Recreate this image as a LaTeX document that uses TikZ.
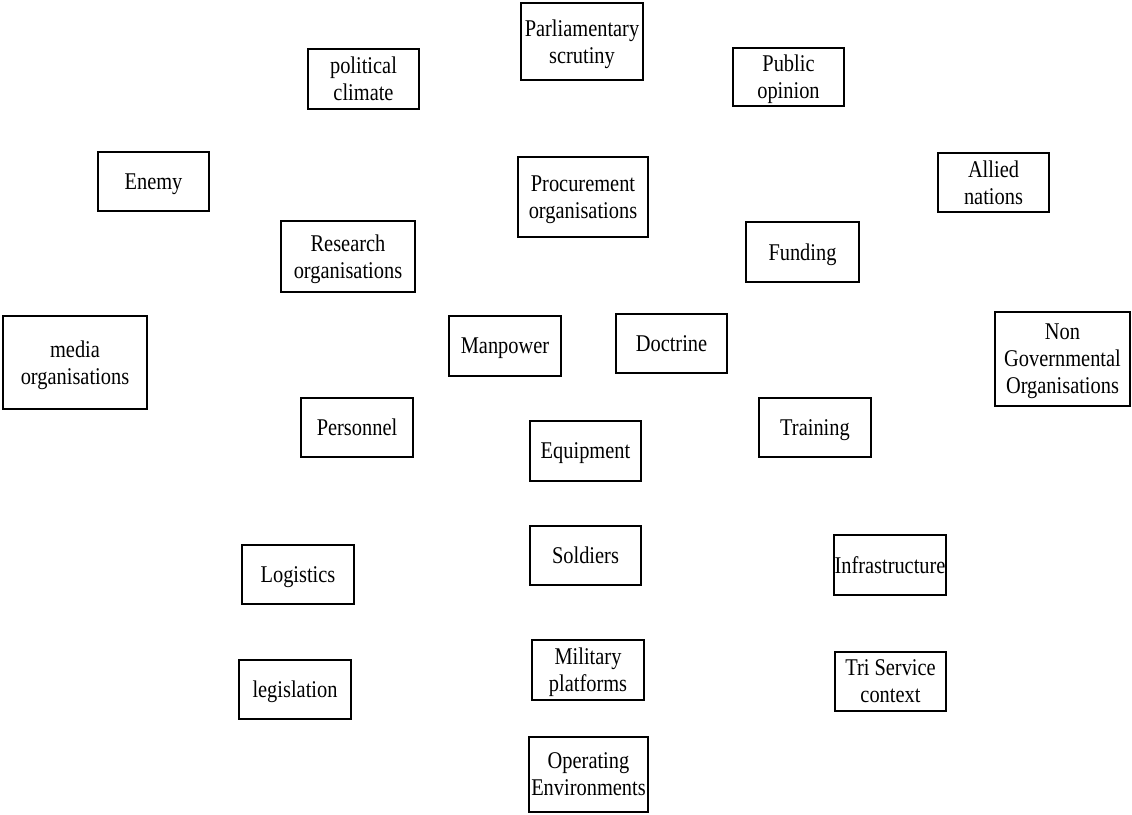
\documentclass[tikz,border=0pt]{standalone}
\usepackage{fontspec}
\setmainfont{Liberation Serif}[FakeStretch=0.85]
\begin{document}
\begin{tikzpicture}[x=1pt,y=1pt,
  box/.style={draw=black, line width=1.1pt, inner sep=0pt, align=center,
    text depth=0pt, font=\fontsize{24}{27}\selectfont}]
% box given by left, top, right, bottom (top-down page coordinates)
\newcommand\bx[6]{%
  \node[box, minimum width={#4-#2}, minimum height={#5-#3}]
    (#1) at ({(#2+#4)/2},{814-(#3+#5)/2}) {#6};}
\useasboundingbox (0,0) rectangle (1132,814);
\bx{parl}{521}{3}{643}{80}{Parliamentary\\scrutiny}
\bx{polclim}{308}{49}{419}{109}{political\\climate}
\bx{pubop}{733}{48}{844}{106}{Public\\opinion}
\bx{enemy}{98}{152}{209}{211}{Enemy}
\bx{procure}{518}{157}{648}{237}{Procurement\\organisations}
\bx{allied}{938}{153}{1049}{212}{Allied\\nations}
\bx{research}{281}{221}{415}{292}{Research\\organisations}
\bx{funding}{746}{222}{859}{282}{Funding}
\bx{media}{3}{316}{147}{409}{media\\organisations}
\bx{manpower}{449}{316}{561}{376}{Manpower}
\bx{doctrine}{616}{314}{727}{373}{Doctrine}
\bx{ngo}{995}{312}{1130}{406}{Non\\Governmental\\Organisations}
\bx{personnel}{301}{398}{413}{457}{Personnel}
\bx{training}{759}{398}{871}{457}{Training}
\bx{equipment}{530}{421}{641}{481}{Equipment}
\bx{soldiers}{530}{526}{641}{585}{Soldiers}
\bx{logistics}{242}{545}{354}{604}{Logistics}
\bx{infra}{834}{535}{946}{595}{Infrastructure}
\bx{milplat}{532}{640}{644}{700}{Military\\platforms}
\bx{legislation}{239}{660}{351}{719}{legislation}
\bx{triserv}{835}{652}{946}{711}{Tri Service\\context}
\bx{openv}{529}{737}{648}{812}{Operating\\Environments}
\end{tikzpicture}
\end{document}
